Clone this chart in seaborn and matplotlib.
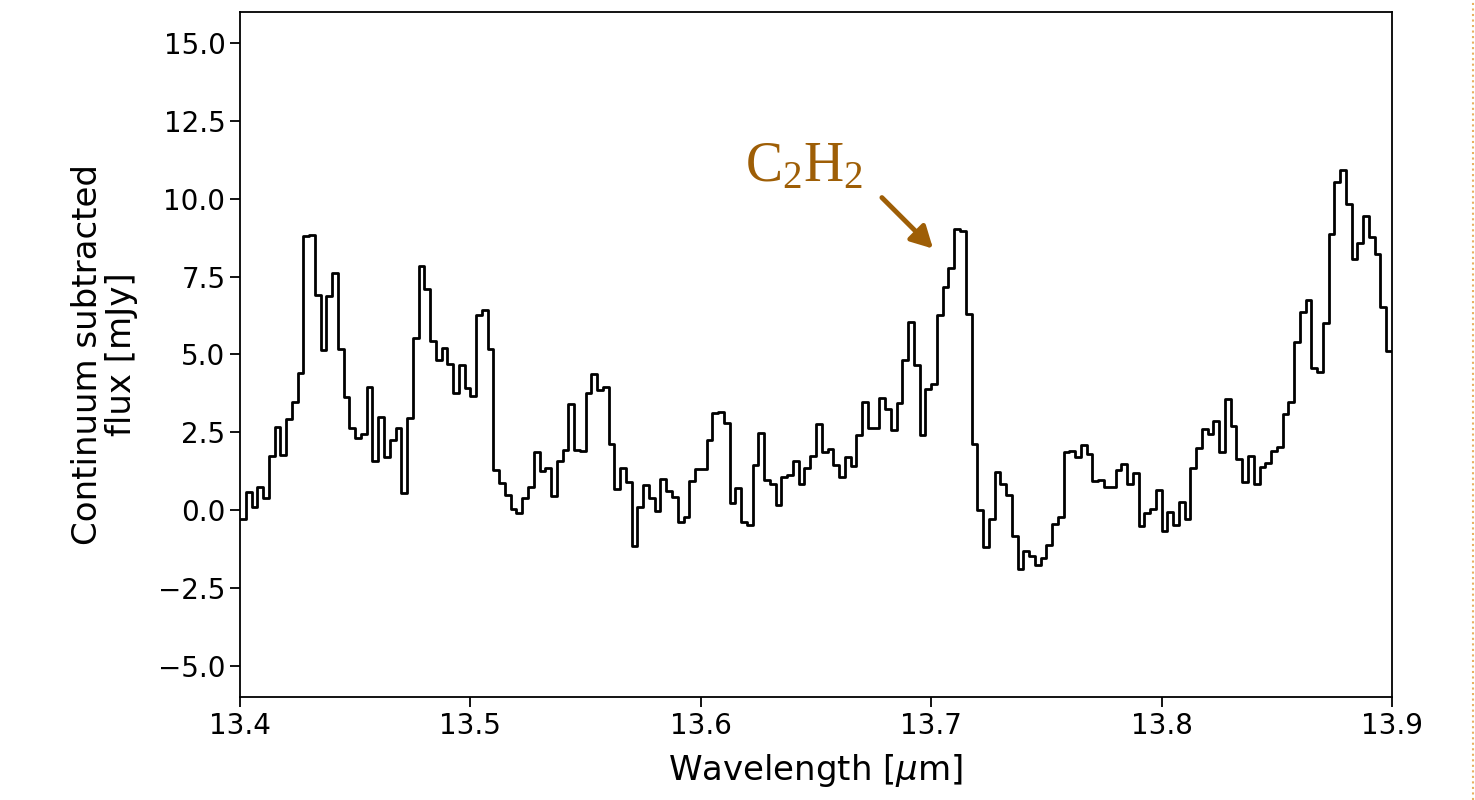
import numpy as np
import pandas as pd
import matplotlib
matplotlib.use("Agg")
import matplotlib.pyplot as plt
from matplotlib.lines import Line2D
import seaborn as sns

# ---- data ----
wl_start = 13.4
wl_stop = 13.9
n_bins = 200
flux = [
    -0.27, 0.59, 0.11, 0.75, 0.40, 1.74, 2.68, 1.77, 2.93, 3.47,
    4.40, 8.80, 8.85, 6.92, 5.13, 6.87, 7.62, 5.17, 3.62, 2.65,
    2.31, 2.44, 3.97, 1.59, 3.00, 1.72, 2.25, 2.63, 0.56, 2.95,
    5.52, 7.83, 7.10, 5.42, 4.81, 5.22, 4.69, 3.75, 4.65, 3.92,
    3.68, 6.28, 6.44, 5.17, 1.29, 0.86, 0.50, 0.05, -0.08, 0.40,
    0.75, 1.88, 1.26, 1.37, 0.46, 1.58, 1.93, 3.41, 1.93, 1.91,
    3.75, 4.38, 3.86, 3.97, 2.12, 0.67, 1.37, 0.91, -1.15, 0.09,
    0.80, 0.38, -0.03, 1.00, 0.61, 0.41, -0.38, -0.21, 0.93, 1.31,
    1.31, 2.27, 3.11, 3.14, 2.79, 0.24, 0.70, -0.38, -0.46, 1.45,
    2.47, 0.97, 0.84, 0.16, 1.05, 1.13, 1.58, 0.84, 1.34, 1.74,
    2.77, 1.86, 1.96, 1.45, 1.05, 1.72, 1.42, 2.41, 3.49, 2.63,
    2.63, 3.59, 3.24, 2.57, 3.45, 4.83, 6.04, 4.67, 2.41, 3.88,
    4.04, 6.28, 7.17, 7.78, 9.04, 8.96, 6.31, 2.12, 0.02, -1.18,
    -0.27, 1.23, 0.83, 0.48, -0.83, -1.88, -1.31, -1.47, -1.75, -1.52,
    -1.11, -0.45, -0.21, 1.88, 1.91, 1.70, 2.09, 1.79, 0.93, 0.97,
    0.75, 0.75, 1.29, 1.47, 0.84, 1.20, -0.51, -0.09, 0.05, 0.64,
    -0.68, -0.05, -0.48, 0.25, -0.27, 1.37, 1.99, 2.60, 2.45, 2.87,
    1.88, 3.57, 2.71, 1.63, 0.91, 1.74, 0.84, 1.39, 1.50, 1.90,
    2.04, 3.09, 3.49, 5.39, 6.35, 6.76, 4.56, 4.43, 6.01, 8.87,
    10.53, 10.94, 9.82, 8.08, 8.58, 9.46, 8.76, 8.24, 6.54, 5.12,
]
x_ticks = [13.4, 13.5, 13.6, 13.7, 13.8, 13.9]
y_ticks = [-5.0, -2.5, 0.0, 2.5, 5.0, 7.5, 10.0, 12.5, 15.0]
annot_label = r"$\mathrm{C_2H_2}$"
annot_text_xy = (13.619, 10.56)
annot_arrow_tail = (13.6786, 10.04)
annot_arrow_head = (13.7008, 8.40)

# ---- styling ----
sns.set_style("ticks")
plt.rcParams["font.family"] = ["DejaVu Sans"]
plt.rcParams["mathtext.fontset"] = "custom"
plt.rcParams["mathtext.rm"] = "Liberation Serif"
plt.rcParams["mathtext.it"] = "DejaVu Sans:italic"
plt.rcParams["mathtext.bf"] = "DejaVu Sans:bold"

edges = np.linspace(wl_start, wl_stop, n_bins + 1)
df = pd.DataFrame({"wl": edges, "flux": list(flux) + [flux[-1]]})

fig = plt.figure(figsize=(14.75, 8.0), dpi=100)
ax = fig.add_axes([240 / 1475, 1 - 697 / 800, (1392 - 240) / 1475, (697 - 12) / 800])

sns.lineplot(data=df, x="wl", y="flux", ax=ax, drawstyle="steps-post",
             color="black", linewidth=2.0, estimator=None, sort=False)

ax.set_xlim(wl_start, wl_stop)
ax.set_ylim(-6.0, 16.0)
ax.set_xticks(x_ticks)
ax.set_xticklabels([f"{t:.1f}" for t in x_ticks])
ax.set_yticks(y_ticks)
ax.set_yticklabels([f"{t:.1f}".replace("-", "\u2212") for t in y_ticks])
ax.tick_params(labelsize=20, length=7, width=1.3, direction="out", colors="black")
for s in ax.spines.values():
    s.set_visible(True)
    s.set_linewidth(1.3)
    s.set_color("black")

ax.set_xlabel(r"Wavelength [$\mu$m]", fontsize=24.5, labelpad=9, color="black")
ax.set_ylabel("Continuum subtracted\nflux [mJy]", fontsize=24.5, labelpad=14,
              linespacing=1.05, color="black")

brown = "#9E5E06"
ax.text(annot_text_xy[0], annot_text_xy[1], annot_label, fontsize=40,
        color=brown, ha="left", va="baseline")
ax.annotate("", xy=annot_arrow_head, xytext=annot_arrow_tail,
            arrowprops=dict(arrowstyle="-|>,head_length=1.3,head_width=0.7",
                            color=brown, lw=3.5, shrinkA=0, shrinkB=0))

# decorative dotted border on right edge
fig.add_artist(Line2D([1472.5 / 1475, 1472.5 / 1475], [0, 1],
                      transform=fig.transFigure, color="#E8B060",
                      linestyle=":", linewidth=1.5))

fig.savefig("out.png", dpi=100, facecolor="white")
